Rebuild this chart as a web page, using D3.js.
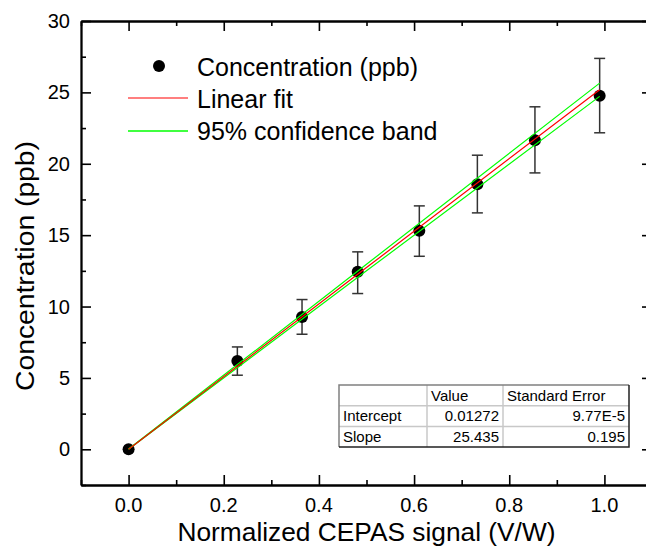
<!DOCTYPE html>
<meta charset="utf-8">
<html>
<style>
 body { margin:0; background:#fff; }
 svg { display:block; font-family: "Liberation Sans", Arial, sans-serif; }
</style>
<script src="https://d3js.org/d3.v7.min.js"></script>
<svg width="646" height="549"></svg>
<script>
// measured points
const signal = [0, 0.2286, 0.3645, 0.4815, 0.611, 0.733, 0.854, 0.99];
const conc   = [0, 6.19, 9.27, 12.43, 15.3, 18.57, 21.65, 24.76];
const errLo  = [0, 5.19, 8.06, 10.91, 13.52, 16.56, 19.36, 22.17];
const errHi  = [0, 7.17, 10.49, 13.83, 17.05, 20.6, 23.99, 27.38];

// fit + confidence band
const fitX   = [0, 0.5, 0.99];
const fitY   = [0.01, 12.73, 25.19];
const bandHi = [0.02, 12.96, 25.65];
const bandLo = [0.0, 12.5, 24.72];

const legendLabels = ["Concentration (ppb)", "Linear fit", "95% confidence band"];
const tableHead = ["", "Value", "Standard Error"];
const tableRows = [["Intercept", "0.01272", "9.77E-5"], ["Slope", "25.435", "0.195"]];

const xMajor = [0, 0.2, 0.4, 0.6, 0.8, 1.0];
const xMinor = [-0.1, 0.1, 0.3, 0.5, 0.7, 0.9, 1.1];
const yMajor = [0, 5, 10, 15, 20, 25, 30];
const yMinor = [-2.5, 2.5, 7.5, 12.5, 17.5, 22.5, 27.5];

const svg = d3.select('svg');
const mLeft = 81, mRight = 652, mTop = 21, mBottom = 485;

const x = d3.scaleLinear().domain([-0.1, 1.1]).range([mLeft, mRight]);
const y = d3.scaleLinear().domain([-2.5, 30]).range([mBottom, mTop]);

// axes: ticks inward, all four sides
const axisG = svg.append('g');
const addTicks = (axis, vals, size) => {
	axis.tickValues(vals).tickSize(size).tickFormat('');
	return axis;
};
const frame = [
	{ mk: d3.axisTop, sc: x, tr: `translate(0,${mBottom})`, maj: xMajor, min: xMinor },
	{ mk: d3.axisBottom, sc: x, tr: `translate(0,${mTop})`, maj: xMajor, min: xMinor },
	{ mk: d3.axisRight, sc: y, tr: `translate(${mLeft},0)`, maj: yMajor, min: yMinor },
	{ mk: d3.axisLeft, sc: y, tr: `translate(${mRight},0)`, maj: yMajor, min: yMinor }
];
frame.forEach(f => {
	const gMin = axisG.append('g').attr('transform', f.tr)
		.call(addTicks(f.mk(f.sc), f.min, 5).tickSizeOuter(0));
	const gMaj = axisG.append('g').attr('transform', f.tr)
		.call(addTicks(f.mk(f.sc), f.maj, 10).tickSizeOuter(0));
	[gMin, gMaj].forEach(g => {
		g.selectAll('line').attr('stroke', '#000').attr('stroke-width', 1.6);
		g.select('.domain').attr('stroke', '#000').attr('stroke-width', 1.8);
	});
});

// tick labels
svg.append('g').selectAll('text').data(xMajor).join('text')
	.attr('x', d => x(d)).attr('y', 512)
	.attr('text-anchor', 'middle').attr('font-size', 20)
	.text(d => d.toFixed(1));
svg.append('g').selectAll('text').data(yMajor).join('text')
	.attr('x', 70).attr('y', d => y(d) + 7)
	.attr('text-anchor', 'end').attr('font-size', 20)
	.text(d => d);

// axis titles
svg.append('text')
	.attr('x', (mLeft + mRight) / 2).attr('y', 541)
	.attr('text-anchor', 'middle').attr('font-size', 25)
	.attr('textLength', 378).attr('lengthAdjust', 'spacingAndGlyphs')
	.text('Normalized CEPAS signal (V/W)');
svg.append('text')
	.attr('transform', `translate(34,266) rotate(-90)`)
	.attr('text-anchor', 'middle').attr('font-size', 26)
	.attr('textLength', 250).attr('lengthAdjust', 'spacingAndGlyphs')
	.text('Concentration (ppb)');

// clip to plot area
svg.append('clipPath').attr('id', 'plot')
	.append('rect').attr('x', mLeft).attr('y', mTop).attr('width', mRight - mLeft).attr('height', mBottom - mTop);
const plot = svg.append('g').attr('clip-path', 'url(#plot)');

// error bars
const pts = signal.map((s, i) => ({ s, c: conc[i], lo: errLo[i], hi: errHi[i] }));
const eb = plot.append('g').attr('stroke', '#333').attr('stroke-width', 1.5);
pts.filter(d => d.hi > d.lo).forEach(d => {
	eb.append('line').attr('x1', x(d.s)).attr('x2', x(d.s)).attr('y1', y(d.lo)).attr('y2', y(d.hi));
	eb.append('line').attr('x1', x(d.s) - 5.5).attr('x2', x(d.s) + 5.5).attr('y1', y(d.lo)).attr('y2', y(d.lo));
	eb.append('line').attr('x1', x(d.s) - 5.5).attr('x2', x(d.s) + 5.5).attr('y1', y(d.hi)).attr('y2', y(d.hi));
});

plot.append('g').selectAll('circle').data(pts).join('circle')
	.attr('cx', d => x(d.s)).attr('cy', d => y(d.c)).attr('r', 6).attr('fill', '#000');

// fit lines
const line = d3.line().x(d => x(d[0])).y(d => y(d[1]));
[[bandHi, '#00ff00'], [bandLo, '#00ff00'], [fitY, '#ff0000']].forEach(([vals, col]) => {
	plot.append('path')
		.datum(fitX.map((v, i) => [v, vals[i]]))
		.attr('d', line).attr('fill', 'none')
		.attr('stroke', col).attr('stroke-width', 1.2);
});

// legend
const lg = svg.append('g').attr('font-size', 25);
lg.append('circle').attr('cx', 159).attr('cy', 66).attr('r', 6).attr('fill', '#000');
lg.append('line').attr('x1', 128).attr('x2', 188).attr('y1', 98).attr('y2', 98).attr('stroke', '#ff0000').attr('stroke-width', 1.2);
lg.append('line').attr('x1', 128).attr('x2', 188).attr('y1', 131).attr('y2', 131).attr('stroke', '#00ff00').attr('stroke-width', 1.5);
legendLabels.forEach((t, i) => {
	lg.append('text').attr('x', 197).attr('y', 76 + i * 32).text(t);
});

// parameter table
const tx = 339, ty = 385, colW = [88, 76, 126], rowH = 20.7;
const tab = svg.append('g').attr('font-size', 15);
const allRows = [tableHead].concat(tableRows);
const tw = d3.sum(colW), th = rowH * allRows.length;
tab.append('rect').attr('x', tx).attr('y', ty).attr('width', tw).attr('height', th)
	.attr('fill', '#fff').attr('stroke', 'none');
// inner grid
let cx = tx;
colW.slice(0, -1).forEach(w => {
	cx += w;
	tab.append('line').attr('x1', cx).attr('x2', cx).attr('y1', ty).attr('y2', ty + th)
		.attr('stroke', '#c8c8c8').attr('stroke-width', 1.5);
});
allRows.slice(0, -1).forEach((r, i) => {
	const yy = ty + rowH * (i + 1);
	tab.append('line').attr('x1', tx).attr('x2', tx + tw).attr('y1', yy).attr('y2', yy)
		.attr('stroke', '#c8c8c8').attr('stroke-width', 1.5);
});
// outer frame
tab.append('path').attr('d', `M${tx},${ty + th}V${ty}H${tx + tw}`)
	.attr('fill', 'none').attr('stroke', '#808080').attr('stroke-width', 1.5);
tab.append('path').attr('d', `M${tx + tw},${ty}V${ty + th}H${tx}`)
	.attr('fill', 'none').attr('stroke', '#222').attr('stroke-width', 1.5);
allRows.forEach((r, ri) => {
	let x0 = tx;
	r.forEach((t, ci) => {
		const num = ri > 0 && ci > 0;
		tab.append('text')
			.attr('x', num ? x0 + colW[ci] - 4 : x0 + 4)
			.attr('y', ty + rowH * ri + 15.5)
			.attr('text-anchor', num ? 'end' : 'start')
			.text(t);
		x0 += colW[ci];
	});
});
</script>
</html>
